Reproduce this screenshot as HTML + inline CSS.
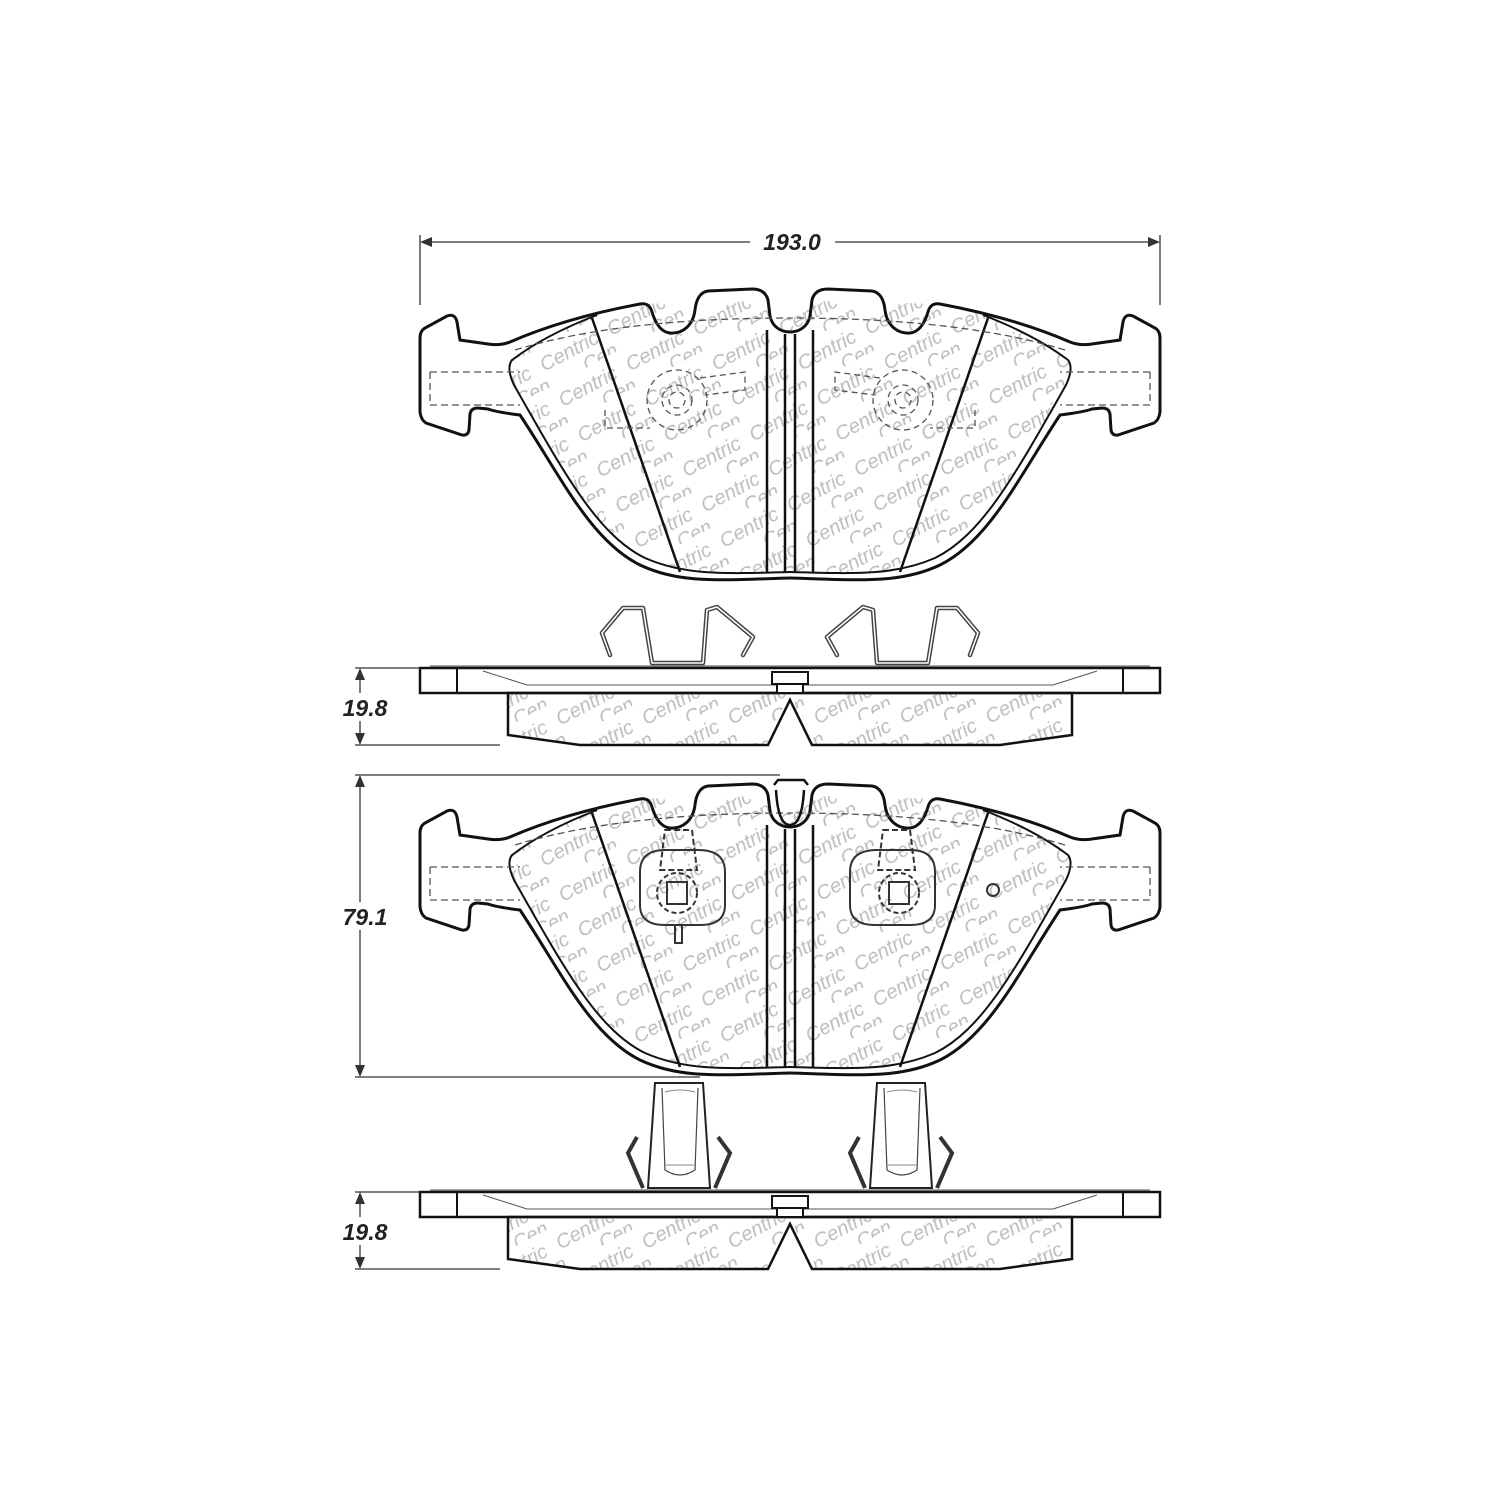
<!DOCTYPE html>
<html><head><style>html,body{margin:0;padding:0;background:#fff}svg{display:block}</style></head>
<body>
<svg width="1500" height="1500" viewBox="0 0 1500 1500" xmlns="http://www.w3.org/2000/svg" font-family="Liberation Sans, sans-serif">
<defs>
<pattern id="wm" width="76" height="40" patternUnits="userSpaceOnUse" patternTransform="rotate(-28)">
<text x="2" y="24" font-size="20" font-style="italic" fill="#bdbdbd">Centric</text>
<text x="40" y="44" font-size="20" font-style="italic" fill="#bdbdbd">Centric</text>
</pattern>
<g id="halfpad">
<path d="M790,332 C780,332 772,326 770,316 L768,300 C766,292 760,289 752,289 L708,291 C700,292 696,300 695,310 C693,326 682,334 670,333 C660,332 655,322 652,312 C650,305 646,303 640,304 Q565,318 510,342 Q500,346 488,344 L460,340 L457,322 Q455,313 447,316 L425,328 Q420,331 420,338 L420,412 Q421,420 426,423 L462,435 Q468,436 469,430 L470,414 Q471,408 478,408 L488,409 Q496,412 520,415 C560,475 590,540 640,565 C680,584 720,580 790,578" fill="none" stroke="#111" stroke-width="3"/>
<path d="M790,572 C720,574 684,575 645,558 C598,535 565,475 514,385 Q506,368 512,360 Q545,335 597,315" fill="none" stroke="#111" stroke-width="2"/>
<path d="M592,318 L680,572" stroke="#111" stroke-width="2.5"/>
<path d="M767,330 L767,572 M785,334 L785,572" stroke="#111" stroke-width="2.5"/>
<path d="M430,372 L520,372 M430,405 L520,405 M430,372 L430,405" stroke="#555" stroke-width="1.3" stroke-dasharray="7,4" fill="none"/>
<path d="M515,350 Q620,318 790,318" stroke="#555" stroke-width="1.3" stroke-dasharray="7,4" fill="none"/>
</g>
<g id="side">
<rect x="420" y="668" width="740" height="25" fill="none" stroke="#111" stroke-width="2.5"/>
<path d="M457,668 L457,693 M1123,668 L1123,693" stroke="#111" stroke-width="2"/>
<path d="M430,666 L1150,666" stroke="#555" stroke-width="1"/>
<path d="M483,671 L527,685 L1053,685 L1097,671" stroke="#555" stroke-width="1" fill="none"/>
<path d="M508,693 L508,735 L580,745 L768,745 L790,700 L812,745 L1000,745 L1072,735 L1072,693 Z" fill="url(#wm)" stroke="#111" stroke-width="2.5"/>
<rect x="772" y="672" width="36" height="12" fill="#fff" stroke="#111" stroke-width="2"/>
<rect x="777" y="684" width="26" height="9" fill="#fff" stroke="#111" stroke-width="2"/>
</g>
<g id="clip1">
<path d="M610,655 L602,633 L623,608 L643,608 L652,663 L703,663 L707,610 L717,607 L753,637 L743,655" fill="none" stroke="#444" stroke-width="4.5" stroke-linejoin="round" stroke-linecap="round"/>
<path d="M610,655 L602,633 L623,608 L643,608 L652,663 L703,663 L707,610 L717,607 L753,637 L743,655" fill="none" stroke="#fff" stroke-width="1.5" stroke-linejoin="round" stroke-linecap="round"/>
</g>
<g id="bclip">
<path d="M655,1083 L703,1083 L710,1188 L648,1188 Z" fill="#fff" stroke="#222" stroke-width="2"/>
<path d="M662,1088 L665,1170 Q680,1180 695,1170 L698,1088" fill="none" stroke="#444" stroke-width="1.2"/>
<path d="M665,1092 Q680,1088 695,1092 M665,1165 L695,1165" fill="none" stroke="#888" stroke-width="1"/>
<path d="M637,1137 L628,1153 L643,1188 M718,1137 L730,1153 L715,1188" fill="none" stroke="#333" stroke-width="4"/>
</g>
</defs>

<path d="M420,235 L420,305 M1160,235 L1160,305" stroke="#333" stroke-width="1.3"/>
<path d="M425,242 L750,242 M835,242 L1155,242" stroke="#333" stroke-width="1.3"/>
<path d="M420,242 L432,237 L432,247 Z M1160,242 L1148,237 L1148,247 Z" fill="#333"/>
<text x="792" y="250" font-size="23" font-weight="bold" font-style="italic" text-anchor="middle" fill="#222">193.0</text>

<path d="M512,360 Q545,335 597,315 L640,304 L790,300 L940,304 L983,315 Q1035,335 1068,360 Q1074,368 1066,385 C1015,475 982,535 935,558 C896,575 860,574 790,572 C720,574 684,575 645,558 C598,535 565,475 514,385 Q506,368 512,360 Z" fill="url(#wm)"/>
<use href="#halfpad"/>
<use href="#halfpad" transform="translate(1580,0) scale(-1,1)"/>
<g fill="none" stroke="#555" stroke-width="1.3" stroke-dasharray="6,4">
<circle cx="677" cy="400" r="30"/><circle cx="677" cy="400" r="15"/><circle cx="677" cy="400" r="8"/>
<circle cx="903" cy="400" r="30"/><circle cx="903" cy="400" r="15"/><circle cx="903" cy="400" r="8"/>
<path d="M605,410 L605,428 L650,428 M700,378 L745,372 L745,390 L705,395"/>
<path d="M975,410 L975,428 L930,428 M880,378 L835,372 L835,390 L875,395"/>
</g>

<use href="#side"/>
<use href="#clip1"/>
<use href="#clip1" transform="translate(1580,0) scale(-1,1)"/>
<path d="M355,668 L420,668 M355,745 L500,745 M360,673 L360,740" stroke="#333" stroke-width="1.3"/>
<path d="M360,668 L355,680 L365,680 Z M360,745 L355,733 L365,733 Z" fill="#333"/>
<rect x="330" y="693" width="70" height="28" fill="#fff"/>
<text x="365" y="716" font-size="23" font-weight="bold" font-style="italic" text-anchor="middle" fill="#222">19.8</text>

<g transform="translate(0,495)">
<path d="M512,360 Q545,335 597,315 L640,304 L790,300 L940,304 L983,315 Q1035,335 1068,360 Q1074,368 1066,385 C1015,475 982,535 935,558 C896,575 860,574 790,572 C720,574 684,575 645,558 C598,535 565,475 514,385 Q506,368 512,360 Z" fill="url(#wm)"/>
<use href="#halfpad"/>
<use href="#halfpad" transform="translate(1580,0) scale(-1,1)"/>
</g>
<path d="M774,785 L778,780 L804,780 L808,785" fill="none" stroke="#111" stroke-width="2.5"/>
<path d="M776,790 Q778,825 790,825 Q802,825 804,790" fill="none" stroke="#111" stroke-width="2.5"/>
<g fill="none" stroke="#333" stroke-width="2">
<path d="M640,872 Q640,850 665,850 L698,850 Q725,850 725,872 L725,905 Q725,925 700,925 L665,925 Q640,925 640,905 Z"/>
<rect x="667" y="882" width="20" height="22"/>
<circle cx="677" cy="893" r="20" stroke-dasharray="5,3"/>
<path d="M665,830 L692,830 L697,870 L660,870 Z" stroke-dasharray="6,3"/>
<path d="M675,925 L675,943 L682,943 L682,925"/>
<path d="M935,872 Q935,850 910,850 L877,850 Q850,850 850,872 L850,905 Q850,925 875,925 L910,925 Q935,925 935,905 Z"/>
<rect x="889" y="882" width="20" height="22"/>
<circle cx="899" cy="893" r="20" stroke-dasharray="5,3"/>
<path d="M883,830 L910,830 L915,870 L878,870 Z" stroke-dasharray="6,3"/>
<circle cx="993" cy="890" r="6"/>
</g>
<path d="M355,775 L780,775 M355,1077 L700,1077 M360,780 L360,1072" stroke="#333" stroke-width="1.3"/>
<path d="M360,775 L355,787 L365,787 Z M360,1077 L355,1065 L365,1065 Z" fill="#333"/>
<rect x="330" y="902" width="70" height="28" fill="#fff"/>
<text x="365" y="925" font-size="23" font-weight="bold" font-style="italic" text-anchor="middle" fill="#222">79.1</text>

<use href="#side" transform="translate(0,524)"/>
<use href="#bclip"/>
<use href="#bclip" transform="translate(222,0)"/>
<path d="M355,1192 L420,1192 M355,1269 L500,1269 M360,1197 L360,1264" stroke="#333" stroke-width="1.3"/>
<path d="M360,1192 L355,1204 L365,1204 Z M360,1269 L355,1257 L365,1257 Z" fill="#333"/>
<rect x="330" y="1217" width="70" height="28" fill="#fff"/>
<text x="365" y="1240" font-size="23" font-weight="bold" font-style="italic" text-anchor="middle" fill="#222">19.8</text>
</svg>
</body></html>
